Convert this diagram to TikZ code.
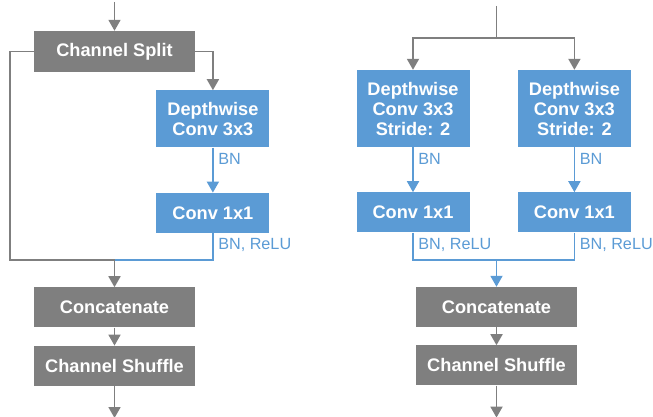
\documentclass[tikz,border=0pt]{standalone}
\usepackage{fontspec}
\setmainfont{Liberation Sans}
\usetikzlibrary{positioning, arrows.meta, calc}
\definecolor{boxgray}{HTML}{7F7F7F}
\definecolor{boxblue}{HTML}{5B9BD5}

\begin{document}
\begin{tikzpicture}[
        node distance=18pt,
        op/.style={rectangle, fill=boxgray, text=white, font=\bfseries\fontsize{18.2}{20}\selectfont, minimum width=161pt, minimum height=40pt, inner sep=0pt, align=center},
        conv/.style={op, fill=boxblue, minimum width=113pt},
        note/.style={text=boxblue, font=\fontsize{16.2}{18}\selectfont, inner sep=4.5pt},
        gline/.style={draw=boxgray, line width=1.8pt},
        bline/.style={draw=boxblue, line width=1.8pt},
        garrow/.style={gline, -{Triangle[width=12pt,length=11pt]}},
        barrow/.style={bline, -{Triangle[width=12pt,length=11pt]}}
    ]
        \useasboundingbox (0,0) rectangle (653pt,-417pt);

        % Nodes
        \node (split) [op, minimum height=41pt] at (114.5pt,-51.5pt) {Channel Split};
        \node (dw1) [conv, minimum height=57pt, below right=18pt and -39pt of split] {Depthwise\\Conv 3x3};
        \node (pw1) [conv, below=45pt of dw1] {Conv 1x1};
        \node (cat1) [op, below=215pt of split] {Concatenate};
        \node (shuf1) [op, below=of cat1] {Channel Shuffle};

        \node (dwa) [conv, minimum height=77pt] at (413pt,-108.5pt) {Depthwise\\Conv 3x3\\Stride: 2};
        \node (dwb) [conv, minimum height=77pt, right=48pt of dwa] {Depthwise\\Conv 3x3\\Stride: 2};
        \node (pwa) [conv, below=45pt of dwa] {Conv 1x1};
        \node (pwb) [conv, below=45pt of dwb] {Conv 1x1};
        \node (cat2) [op] at (496.5pt,-307pt) {Concatenate};
        \node (shuf2) [op, below=of cat2] {Channel Shuffle};

        \coordinate (in1) at ($(split.north)+(0,29pt)$);
        \coordinate (j1) at ($(cat1.north)+(0,27pt)$);
        \coordinate (out1) at ($(shuf1.south)+(0,-32pt)$);
        \coordinate (in2) at (496.5pt,-6pt);
        \coordinate (fork) at (496.5pt,-38pt);
        \coordinate (j2) at ($(cat2.north)+(0,27pt)$);
        \coordinate (out2) at ($(shuf2.south)+(0,-32pt)$);

        % Arrows
        \draw [garrow] (in1) -- (split);
        \draw [garrow] (split.east) -| (dw1.north);
        \draw [gline] (split.west) -- ++(-24pt,0) |- (j1);
        \draw [barrow] (dw1) -- node[note, right, pos=0.25] {BN} (pw1);
        \draw [bline] (pw1.south) |- node[note, right, pos=0.22] {BN, ReLU} (j1);
        \draw [garrow] (j1) -- (cat1);
        \draw [garrow] (cat1) -- (shuf1);
        \draw [garrow] (shuf1) -- (out1);

        \draw [gline] (in2) -- (fork);
        \draw [garrow] (fork) -| (dwa.north);
        \draw [garrow] (fork) -| (dwb.north);
        \draw [barrow] (dwa) -- node[note, right, pos=0.25] {BN} (pwa);
        \draw [barrow] (dwb) -- node[note, right, pos=0.25] {BN} (pwb);
        \draw [bline] (pwa.south) |- node[note, right, pos=0.22] {BN, ReLU} (j2);
        \draw [bline] (pwb.south) |- node[note, right, pos=0.22] {BN, ReLU} (j2);
        \draw [barrow] (j2) -- (cat2);
        \draw [garrow] (cat2) -- (shuf2);
        \draw [garrow] (shuf2) -- (out2);
    \end{tikzpicture}
\end{document}
